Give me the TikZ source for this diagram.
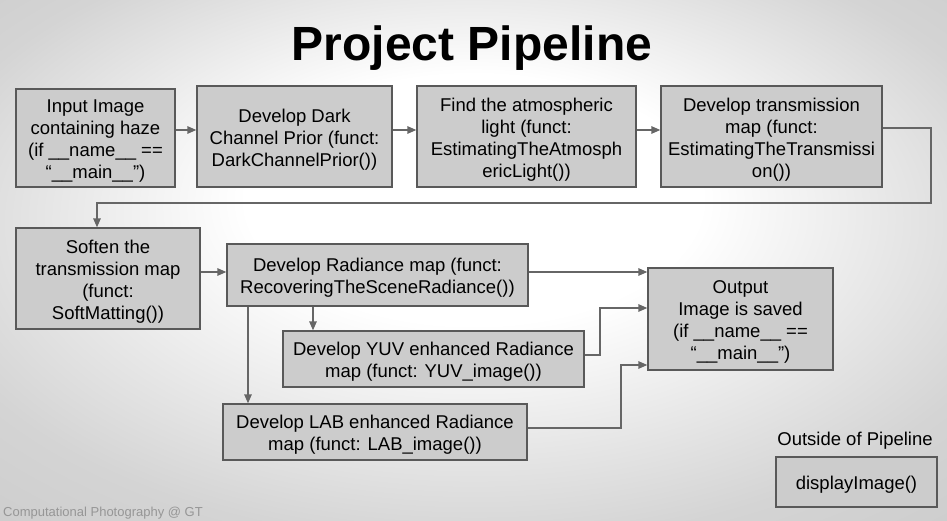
\documentclass[tikz,border=0pt]{standalone}
\usepackage{fontspec}
\setmainfont{Liberation Sans}
\usetikzlibrary{arrows.meta}
\definecolor{boxfill}{RGB}{204,204,204}
\definecolor{boxline}{RGB}{89,89,89}
\definecolor{arrcol}{RGB}{102,102,102}
\definecolor{bgedge}{RGB}{212,212,212}
\definecolor{bgcorner}{RGB}{198,198,198}
\definecolor{footcol}{RGB}{150,150,150}
\pgfdeclareradialshading{bgshade}{\pgfpoint{0bp}{8bp}}{color(0bp)=(white); color(12bp)=(white); color(30bp)=(bgedge); color(45bp)=(bgcorner)}
\newcommand{\tfirst}{\rule{0pt}{19.5pt}}
\tikzset{
  pbox/.style={draw=boxline, fill=boxfill, line width=1.4pt, inner sep=0pt, align=center,
    font=\fontsize{18.5}{22}\selectfont},
  arr/.style={draw=arrcol, line width=1.5pt, -{Triangle[length=9pt,width=7.5pt]}},
}
\begin{document}
\begin{tikzpicture}[x=1pt,y=-1pt]
\useasboundingbox (0,0) rectangle (947,521);
\shade[shading=bgshade] (0,0) rectangle (947,521);

\node[font=\bfseries\fontsize{48}{50}\selectfont, inner sep=0pt, anchor=base] (title) at (472,61) {Project Pipeline};

\node[pbox, minimum width=159pt, minimum height=98pt] (inp) at (95.5,138) {\tfirst Input Image\\containing haze\\(if \_\_name\_\_ ==\\“\_\_main\_\_”)};
\node[pbox, minimum width=195pt, minimum height=101pt] (dark) at (294.5,136.5) {\tfirst Develop Dark\\Channel Prior (funct:\\DarkChannelPrior())};
\node[pbox, minimum width=219pt, minimum height=101pt] (atm) at (526.5,136.5) {\tfirst Find the atmospheric\\light (funct:\\EstimatingTheAtmosph\\ericLight())};
\node[pbox, minimum width=221pt, minimum height=101pt] (trans) at (771.5,136.5) {\tfirst Develop transmission\\map (funct:\\EstimatingTheTransmissi\\on())};
\node[pbox, minimum width=184pt, minimum height=101pt] (soft) at (108,278.5) {\tfirst Soften the\\transmission map\\(funct:\\SoftMatting())};
\node[pbox, minimum width=301pt, minimum height=62pt] (rad) at (377.5,275) {\tfirst Develop Radiance map (funct:\\RecoveringTheSceneRadiance())};
\node[pbox, minimum width=301pt, minimum height=56pt] (yuv) at (433.5,359) {\tfirst Develop YUV enhanced Radiance\\map (funct: YUV\_image())};
\node[pbox, minimum width=304pt, minimum height=56pt] (lab) at (375,432) {\tfirst Develop LAB enhanced Radiance\\map (funct: LAB\_image())};
\node[pbox, minimum width=185pt, minimum height=102pt] (out) at (740.5,319) {\tfirst Output\\Image is saved\\(if \_\_name\_\_ ==\\“\_\_main\_\_”)};
\node[font=\fontsize{18.5}{22}\selectfont, inner sep=0pt] (outside) at (855,441) {Outside of Pipeline};
\node[pbox, minimum width=161pt, minimum height=50pt] (disp) at (856.5,482) {\tfirst displayImage()};

\node[font=\fontsize{13}{15}\selectfont, text=footcol, inner sep=0pt, anchor=base west] (foot) at (3,516) {Computational Photography @ GT};

\draw[arr] (inp.east |- 0,130) -- (dark.west |- 0,130);
\draw[arr] (dark.east |- 0,130) -- (atm.west |- 0,130);
\draw[arr] (atm.east |- 0,130) -- (trans.west |- 0,130);
\coordinate (loopr) at (931,128);
\coordinate (loopb) at (931,203);
\draw[arr] (trans.east |- loopr) -- (loopr) -- (loopb) -- (97,203) -- (soft.north -| 97,0);
\draw[arr] (soft.east |- 0,272) -- (rad.west |- 0,272);
\draw[arr] (rad.east |- 0,272) -- (out.west |- 0,272);
\draw[arr] (rad.south -| 313,0) -- (yuv.north -| 313,0);
\draw[arr] (rad.south -| 248,0) -- (lab.north -| 248,0);
\draw[arr] (yuv.east |- 0,355) -- (600,355) -- (600,308) -- (out.west |- 0,308);
\draw[arr] (lab.east |- 0,428) -- (621,428) -- (621,365) -- (out.west |- 0,365);
\end{tikzpicture}
\end{document}
